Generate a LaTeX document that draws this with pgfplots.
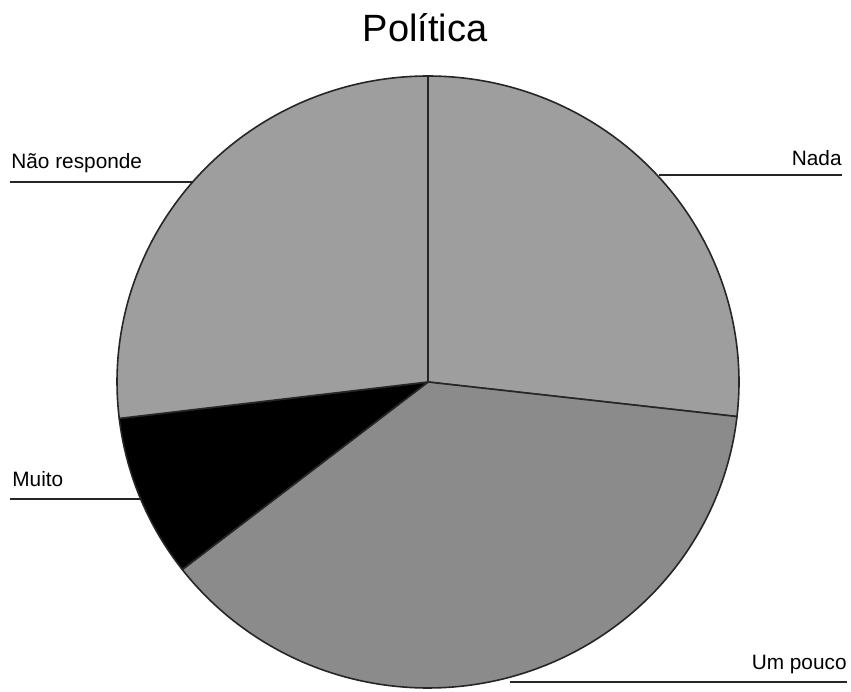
\documentclass[border=0pt]{standalone}
\usepackage{pgfplots}
\pgfplotsset{compat=1.18}
\usepackage{fontspec}
\setmainfont{Liberation Sans}
\definecolor{sliceLight}{HTML}{9E9E9E}
\definecolor{sliceMid}{HTML}{8B8B8B}
\definecolor{edge}{HTML}{262626}
\begin{document}
\begin{tikzpicture}
% shares (percent)
\def\vNada{26.8}
\def\vPouco{37.7}
\def\vMuito{8.6}
\def\vNR{26.9}
\pgfmathsetmacro\aA{90}
\pgfmathsetmacro\aB{\aA-3.6*\vNada}
\pgfmathsetmacro\aC{\aB-3.6*\vPouco}
\pgfmathsetmacro\aD{\aC-3.6*\vMuito}
\pgfmathsetmacro\aE{\aD-3.6*\vNR}
\begin{axis}[scale only axis, width=425.5pt, height=345.5pt,
  xmin=0, xmax=851, ymin=0, ymax=691, hide axis, clip=false]
\path (axis cs:0,0) rectangle (axis cs:851,691);
\addplot[fill=sliceLight, draw=edge, line width=0.8pt, line join=round, domain=\aB:\aA, samples=90]
  ({428+311*cos(x)},{309+306*sin(x)}) -- (axis cs:428,309) -- cycle;
\addplot[fill=sliceMid, draw=edge, line width=0.8pt, line join=round, domain=\aC:\aB, samples=120]
  ({428+311*cos(x)},{309+306*sin(x)}) -- (axis cs:428,309) -- cycle;
\addplot[fill=black, draw=edge, line width=0.8pt, line join=round, domain=\aD:\aC, samples=40]
  ({428+311*cos(x)},{309+306*sin(x)}) -- (axis cs:428,309) -- cycle;
\addplot[fill=sliceLight, draw=edge, line width=0.8pt, line join=round, domain=\aE:\aD, samples=90]
  ({428+311*cos(x)},{309+306*sin(x)}) -- (axis cs:428,309) -- cycle;
% leader lines
\draw[line width=0.7pt, black!85] (axis cs:10,509) -- (axis cs:193,509);
\draw[line width=0.7pt, black!85] (axis cs:659,516) -- (axis cs:842,516);
\draw[line width=0.7pt, black!85] (axis cs:10,192) -- (axis cs:140,192);
\draw[line width=0.7pt, black!85] (axis cs:510,9) -- (axis cs:847,9);
% labels
\node[anchor=base west, inner sep=0pt, font=\fontsize{10.4}{12}\selectfont] at (axis cs:11,522) {Não responde};
\node[anchor=base east, inner sep=0pt, font=\fontsize{10.4}{12}\selectfont] at (axis cs:842,525) {Nada};
\node[anchor=base west, inner sep=0pt, font=\fontsize{10.4}{12}\selectfont] at (axis cs:12,205) {Muito};
\node[anchor=base east, inner sep=0pt, font=\fontsize{10.4}{12}\selectfont] at (axis cs:847,22) {Um pouco};
\node[anchor=base, inner sep=0pt, font=\fontsize{19}{22}\selectfont] at (axis cs:425,649) {Política};
\end{axis}
\end{tikzpicture}
\end{document}
